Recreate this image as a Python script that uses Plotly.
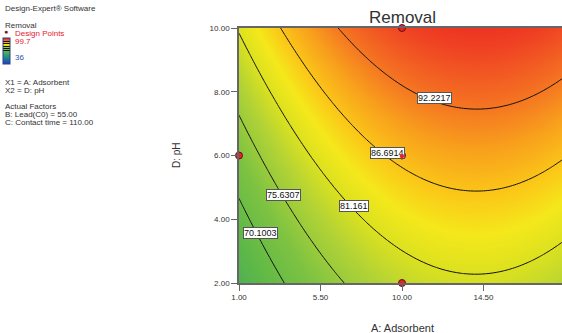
import numpy as np
import plotly.graph_objects as go

# ---- data ----
contour_levels = [70.1003, 75.6307, 81.161, 86.6914, 92.2217]
# points (A: Adsorbent, D: pH)
c70_A = [1.0, 1.99, 3.48]
c70_pH = [4.69, 3.69, 2.0]
c75_A = [1.0, 3.43, 4.53, 6.74]
c75_pH = [7.125, 4.81, 3.69, 2.0]
c81_A = [1.0, 3.65, 6.41, 9.17, 14.2, 18.83]
c81_pH = [9.84, 7.125, 4.625, 3.375, 2.25, 3.375]
c86_A = [3.32, 6.96, 9.1, 14.3, 18.83]
c86_pH = [10.0, 7.125, 6.1, 4.875, 5.78]
c92_A = [6.46, 11.8, 14.2, 18.83]
c92_pH = [10.0, 7.8, 7.44, 8.375]

design_A = [10.0, 1.0, 10.0, 10.0, 19.0]
design_pH = [10.0, 6.0, 6.0, 2.0, 6.0]

x_ticks = [1.0, 5.5, 10.0, 14.5, 19.0]
y_ticks = [2.0, 4.0, 6.0, 8.0, 10.0]

z_min, z_max = 36.0, 99.7

label_A = [11.82, 9.2, 7.35, 3.43, 2.16]
label_pH = [7.80, 6.09, 4.43, 4.77, 3.57]
label_text = ["92.2217", "86.6914", "81.161", "75.6307", "70.1003"]

# ---- quadratic response surface fitted to the read contour points ----
pts = [(c70_A, c70_pH, contour_levels[0]), (c75_A, c75_pH, contour_levels[1]),
       (c81_A, c81_pH, contour_levels[2]), (c86_A, c86_pH, contour_levels[3]),
       (c92_A, c92_pH, contour_levels[4])]
rows, vals = [], []
for As, Ps, lv in pts:
    for a, p in zip(As, Ps):
        rows.append([1, a, p, a * a, p * p, a * p])
        vals.append(lv)
coef, *_ = np.linalg.lstsq(np.array(rows), np.array(vals), rcond=None)

gA = np.linspace(1, 19, 91)
gP = np.linspace(2, 10, 81)
AA, PP = np.meshgrid(gA, gP)
Z = coef[0] + coef[1] * AA + coef[2] * PP + coef[3] * AA ** 2 + coef[4] * PP ** 2 + coef[5] * AA * PP

cscale = [
    [0.0, "#1f3fbf"],
    [0.25, "#1f8a8a"],
    [0.50, "#5fb946"],
    [0.58, "#7dc242"],
    [0.66, "#b3d335"],
    [0.71, "#dce11f"],
    [0.75, "#f4e81b"],
    [0.79, "#fbc818"],
    [0.84, "#f8a01c"],
    [0.89, "#f47022"],
    [0.95, "#ef4023"],
    [1.0, "#e8231f"],
]

W, H = 562, 333
L, T, B = 239, 28, 50
PW, PH = W - L, H - T - B


def px(xp):
    return (xp - L) / PW


def py(yp):
    return 1 - (yp - T) / PH


step = contour_levels[1] - contour_levels[0]

fig = go.Figure()
fig.add_trace(go.Contour(
    x=gA, y=gP, z=Z,
    zmin=z_min, zmax=z_max, zauto=False,
    colorscale=cscale,
    contours=dict(coloring="heatmap", start=contour_levels[0], end=contour_levels[-1] + step / 2,
                  size=step, showlabels=False),
    line=dict(color="#111111", width=1),
    colorbar=dict(x=px(3), xanchor="left", y=py(51), yanchor="middle",
                  len=26, lenmode="pixels", thickness=7, thicknessmode="pixels",
                  showticklabels=False, ticks="", outlinecolor="#2a3f8f", outlinewidth=1,
                  xpad=0, ypad=0),
    hoverinfo="skip",
))

fig.add_trace(go.Scatter(
    x=design_A, y=design_pH, mode="markers",
    marker=dict(color="#e8202a", size=7, line=dict(color="#6a1010", width=1)),
    cliponaxis=False, showlegend=False, hoverinfo="skip",
))

font = "Liberation Sans, Arial, sans-serif"
anns = []
for a, p, t in zip(label_A, label_pH, label_text):
    anns.append(dict(x=a, y=p, xref="x", yref="y", text=t, showarrow=False,
                     font=dict(family=font, size=9, color="#111111"),
                     bgcolor="white", bordercolor="#555555", borderwidth=1, borderpad=0))
# design point drawn over the label box it overlaps
anns.append(dict(x=design_A[2], y=design_pH[2], xref="x", yref="y", text="●", showarrow=False,
                 font=dict(family=font, size=10, color="#e8202a")))

panel = [
    (8, "Design-Expert® Software", "#333333", 3),
    (25, "Removal", "#333333", 3),
    (33, "Design Points", "#e8202a", 13),
    (41, "99.7", "#e8202a", 13),
    (57, "36", "#3050b0", 13),
    (82, "X1 = A: Adsorbent", "#333333", 3),
    (90, "X2 = D: pH", "#333333", 3),
    (106, "Actual Factors", "#333333", 3),
    (114, "B: Lead(C0) = 55.00", "#333333", 3),
    (122, "C: Contact time = 110.00", "#333333", 3),
]
for yy, t, c, xx in panel:
    anns.append(dict(x=px(xx), y=py(yy), xref="paper", yref="paper", text=t,
                     xanchor="left", yanchor="middle", showarrow=False,
                     font=dict(family=font, size=8, color=c)))
anns.append(dict(x=px(6), y=py(32), xref="paper", yref="paper", text="●",
                 xanchor="center", yanchor="middle", showarrow=False,
                 font=dict(family=font, size=7, color="#7a1a1a")))
anns.append(dict(x=0.5 * (px(239) + px(565)), y=py(18), xref="paper", yref="paper", text="Removal",
                 xanchor="center", yanchor="middle", showarrow=False,
                 font=dict(family=font, size=17, color="#333333")))
anns.append(dict(x=px(176), y=py(155), xref="paper", yref="paper", text="D: pH", textangle=-90,
                 xanchor="center", yanchor="middle", showarrow=False,
                 font=dict(family=font, size=10, color="#333333")))
anns.append(dict(x=0.5 * (px(239) + px(565)), y=py(328), xref="paper", yref="paper", text="A: Adsorbent",
                 xanchor="center", yanchor="middle", showarrow=False,
                 font=dict(family=font, size=11, color="#333333")))

x_end = 1 + (W - L) * (x_ticks[2] - x_ticks[0]) / (402 - 239)

fig.update_layout(
    width=W, height=H, margin=dict(l=L, r=0, t=T, b=B, autoexpand=False),
    paper_bgcolor="white", plot_bgcolor="white",
    annotations=anns, showlegend=False, hovermode=False,
    xaxis=dict(range=[1, x_end], tickvals=x_ticks, ticktext=[f"{v:.2f}" for v in x_ticks],
               ticks="outside", ticklen=6, tickcolor="#666666", showline=True, linecolor="#666666",
               linewidth=1.5, mirror=True, showgrid=False, zeroline=False,
               tickfont=dict(family=font, size=8, color="#333333")),
    yaxis=dict(range=[2, 10], tickvals=y_ticks, ticktext=[f"{v:.2f}" for v in y_ticks],
               ticks="outside", ticklen=6, tickcolor="#666666", showline=True, linecolor="#666666",
               linewidth=1.5, mirror=True, showgrid=False, zeroline=False,
               tickfont=dict(family=font, size=8, color="#333333")),
)

fig.write_html("out.html", config={"displayModeBar": False},
               post_script="document.body.style.margin='0';document.body.style.overflow='hidden';")
